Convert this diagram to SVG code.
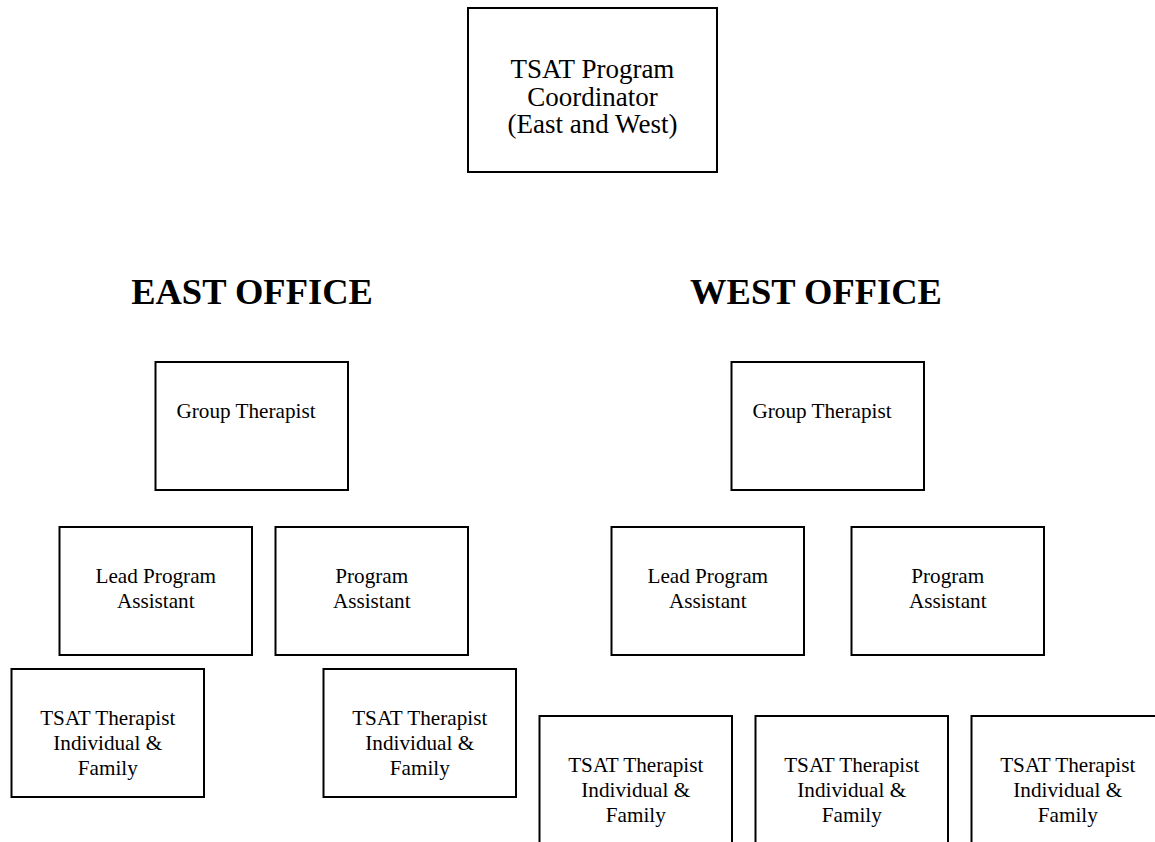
<svg xmlns="http://www.w3.org/2000/svg" width="1155" height="842" viewBox="0 0 1155 842">
  <style>
    .box { fill: #ffffff; stroke: #000000; stroke-width: 2; }
    .t { font-family: "Liberation Serif", "Times New Roman", serif; font-size: 21.2px; fill: #000000; text-anchor: middle; }
    .tt { font-family: "Liberation Serif", "Times New Roman", serif; font-size: 27px; fill: #000000; text-anchor: middle; }
    .h { font-family: "Liberation Serif", "Times New Roman", serif; font-size: 36.5px; font-weight: bold; fill: #000000; text-anchor: middle; }
  </style>
  <rect width="1155" height="842" fill="#ffffff"/>
  <g id="connectors"></g>

  <g id="coordinator">
    <rect class="box" x="468" y="8" width="249" height="164"/>
    <text class="tt" x="592.5" y="78">TSAT Program</text>
    <text class="tt" x="592.5" y="105.5">Coordinator</text>
    <text class="tt" x="592.5" y="133">(East and West)</text>
  </g>

  <g id="east-heading"><text class="h" x="252" y="304">EAST OFFICE</text></g>
  <g id="west-heading"><text class="h" x="816" y="304">WEST OFFICE</text></g>

  <g id="east-group-therapist">
    <rect class="box" x="155.5" y="362" width="192.5" height="128"/>
    <text class="t" x="246" y="418">Group Therapist</text>
  </g>
  <g id="east-lead-pa">
    <rect class="box" x="59.5" y="527" width="192.5" height="128"/>
    <text class="t" x="155.75" y="583">Lead Program</text>
    <text class="t" x="155.75" y="608">Assistant</text>
  </g>
  <g id="east-pa">
    <rect class="box" x="275.5" y="527" width="192.5" height="128"/>
    <text class="t" x="371.75" y="583">Program</text>
    <text class="t" x="371.75" y="608">Assistant</text>
  </g>
  <g id="east-tsat-1">
    <rect class="box" x="11.5" y="669" width="192.5" height="128"/>
    <text class="t" x="107.75" y="725">TSAT Therapist</text>
    <text class="t" x="107.75" y="750">Individual &amp;</text>
    <text class="t" x="107.75" y="775">Family</text>
  </g>
  <g id="east-tsat-2">
    <rect class="box" x="323.5" y="669" width="192.5" height="128"/>
    <text class="t" x="419.75" y="725">TSAT Therapist</text>
    <text class="t" x="419.75" y="750">Individual &amp;</text>
    <text class="t" x="419.75" y="775">Family</text>
  </g>

  <g id="west-group-therapist">
    <rect class="box" x="731.5" y="362" width="192.5" height="128"/>
    <text class="t" x="822" y="418">Group Therapist</text>
  </g>
  <g id="west-lead-pa">
    <rect class="box" x="611.5" y="527" width="192.5" height="128"/>
    <text class="t" x="707.75" y="583">Lead Program</text>
    <text class="t" x="707.75" y="608">Assistant</text>
  </g>
  <g id="west-pa">
    <rect class="box" x="851.5" y="527" width="192.5" height="128"/>
    <text class="t" x="947.75" y="583">Program</text>
    <text class="t" x="947.75" y="608">Assistant</text>
  </g>
  <g id="west-tsat-1">
    <rect class="box" x="539.5" y="716" width="192.5" height="128"/>
    <text class="t" x="635.75" y="772">TSAT Therapist</text>
    <text class="t" x="635.75" y="797">Individual &amp;</text>
    <text class="t" x="635.75" y="822">Family</text>
  </g>
  <g id="west-tsat-2">
    <rect class="box" x="755.5" y="716" width="192.5" height="128"/>
    <text class="t" x="851.75" y="772">TSAT Therapist</text>
    <text class="t" x="851.75" y="797">Individual &amp;</text>
    <text class="t" x="851.75" y="822">Family</text>
  </g>
  <g id="west-tsat-3">
    <rect class="box" x="971.5" y="716" width="192.5" height="128"/>
    <text class="t" x="1067.75" y="772">TSAT Therapist</text>
    <text class="t" x="1067.75" y="797">Individual &amp;</text>
    <text class="t" x="1067.75" y="822">Family</text>
  </g>
</svg>
